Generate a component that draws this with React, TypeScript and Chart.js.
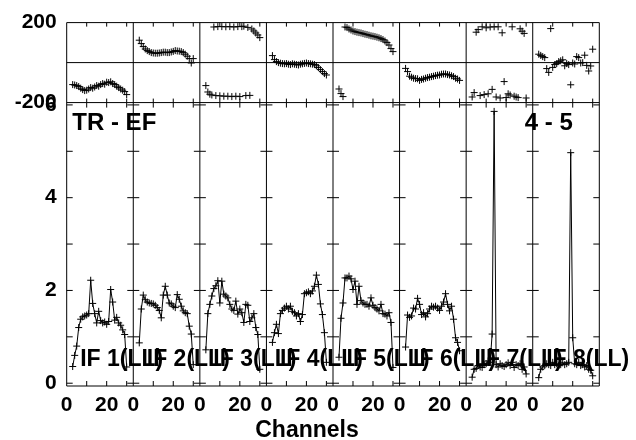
import { useEffect, useRef } from 'react';
import { Chart, registerables } from 'chart.js';
Chart.register(...registerables);

const CHANNELS = [3, 4, 5, 6, 7, 8, 9, 10, 11, 12, 13, 14, 15, 16, 17, 18, 19, 20, 21, 22, 23, 24, 25, 26, 27, 28, 29, 30];
const IF_LABELS = ['IF 1(LL)', 'IF 2(LL)', 'IF 3(LL)', 'IF 4(LL)', 'IF 5(LL)', 'IF 6(LL)', 'IF 7(LL)', 'IF 8(LL)'];
const BASELINE_LEFT = 'TR - EF';
const BASELINE_RIGHT = '4 - 5';
const X_TITLE = 'Channels';

const AMP_IF1 = [0.36, 0.6, 0.8, 1.2, 1.38, 1.43, 1.45, 1.47, 1.5, 2.22, 1.72, 1.5, 1.3, 1.55, 1.35, 1.3, 1.32, 1.27, 1.33, 2.02, 1.75, 1.36, 1.42, 1.3, 1.25, 1.15, 1.05, 0.35];
const AMP_IF2 = [0.87, 1.6, 1.9, 1.8, 1.75, 1.73, 1.72, 1.71, 1.68, 1.63, 1.57, 1.41, 1.9, 2.09, 1.9, 1.73, 1.71, 1.66, 1.63, 1.91, 1.81, 1.66, 1.56, 1.52, 1.5, 1.23, 1.06, 0.4];
const AMP_IF3 = [0.72, 1.5, 1.7, 1.88, 2.04, 2.1, 2.21, 1.73, 2.2, 1.92, 1.88, 1.84, 1.7, 1.6, 1.57, 1.77, 1.49, 1.6, 1.52, 1.31, 1.7, 1.68, 1.33, 1.41, 1.5, 1.2, 1.05, 0.3];
const AMP_IF4 = [0.88, 1.09, 1.27, 1.07, 1.5, 1.57, 1.62, 1.66, 1.6, 1.66, 1.55, 1.52, 1.45, 1.5, 1.33, 1.48, 1.93, 1.95, 1.97, 1.93, 1.99, 2.09, 2.33, 2.13, 1.71, 1.48, 1.09, 0.45];
const AMP_IF5 = [0.56, 1.4, 1.73, 2.27, 2.27, 2.31, 2.25, 2.02, 2.2, 1.7, 2.09, 1.78, 1.73, 1.7, 1.7, 1.66, 1.84, 1.68, 1.63, 1.6, 1.56, 1.7, 1.5, 1.49, 1.45, 1.52, 1.31, 0.34];
const AMP_IF6 = [0.78, 1.47, 1.42, 1.45, 1.62, 1.6, 1.83, 1.7, 1.48, 1.52, 1.43, 1.5, 1.6, 1.66, 1.64, 1.66, 1.62, 1.57, 1.66, 1.75, 1.93, 1.7, 1.56, 1.66, 1.38, 0.98, 0.88, 0.7];
const AMP_IF7 = [0.13, 0.3, 0.32, 0.38, 0.35, 0.34, 0.4, 0.42, 0.48, 0.45, 1.06, 5.86, 0.4, 0.35, 0.42, 0.38, 0.36, 0.4, 0.44, 0.38, 0.45, 0.34, 0.4, 0.38, 0.42, 0.3, 0.35, 0.2];
const AMP_IF8 = [0.12, 0.3, 0.35, 0.38, 0.42, 0.4, 0.38, 0.45, 0.4, 0.42, 0.38, 0.4, 0.44, 0.4, 0.42, 0.45, 4.97, 0.98, 0.42, 0.4, 0.45, 0.38, 0.4, 0.35, 0.38, 0.3, 0.28, 0.16];

const PHASE_IF1 = [-110, -112, -115, -120, -128, -135, -140, -138, -132, -125, -128, -122, -115, -118, -110, -105, -108, -98, -100, -96, -105, -110, -118, -125, -132, -138, -145, -160];
const PHASE_IF2 = [112, 95, 80, 68, 60, 55, 50, 48, 47, 47, 48, 50, 52, 52, 50, 50, 53, 56, 60, 58, 57, 55, 50, 42, 32, 20, -2, 20];
const PHASE_IF3 = [-115, -147, -158, -162, 178, -165, 180, -166, 180, -168, 179, -168, 180, -170, 178, -168, 180, -170, 180, 182, -165, 176, -164, 168, 158, 148, 138, 125];
const PHASE_IF4 = [35, 15, 5, 0, -3, -5, -6, -5, -8, -10, -6, -8, -10, -12, -8, -6, -4, -2, -5, -6, -8, -10, -16, -25, -35, -45, -55, -62];
const PHASE_IF5 = [-132, -155, -170, 178, 175, 168, 163, 158, 155, 152, 150, 148, 145, 142, 140, 137, 134, 132, 130, 127, 124, 120, 115, 108, 100, 88, 70, 55];
const PHASE_IF6 = [-29, -45, -68, -73, -78, -80, -81, -89, -84, -82, -78, -75, -73, -70, -68, -65, -63, -62, -58, -57, -57, -60, -62, -66, -70, -78, -82, -89];
const PHASE_IF7 = [-172, -150, 152, 165, -165, 179, -160, 174, -156, 178, -134, 179, -172, 179, -177, 149, -95, -175, -156, -162, 179, -168, -172, -175, 169, 157, 146, -177];
const PHASE_IF8 = [42, 36, 30, 25, -30, -49, 170, -24, -10, -5, 5, 9, 14, -16, -5, -10, -111, -2, -7, 30, 25, -2, 0, 37, -14, -42, -17, 67];

const AMP_SERIES = [AMP_IF1, AMP_IF2, AMP_IF3, AMP_IF4, AMP_IF5, AMP_IF6, AMP_IF7, AMP_IF8];
const PHASE_SERIES = [PHASE_IF1, PHASE_IF2, PHASE_IF3, PHASE_IF4, PHASE_IF5, PHASE_IF6, PHASE_IF7, PHASE_IF8];

const CHANNEL_MIN = 0;
const CHANNEL_MAX = 33.3;
const CHANNEL_LABEL_TICKS = [0, 20];
const CHANNEL_MARK_TICKS = [10, 20, 30];
const AMP_MIN = -0.06;
const AMP_MAX = 6.05;
const AMP_LABEL_TICKS = [0, 2, 4, 6];
const AMP_MARK_TICKS = [0, 1, 2, 3, 4, 5, 6];
const PHASE_MIN = -200;
const PHASE_MAX = 200;
const PHASE_LABEL_TICKS = [-200, 200];

const FONT_FAMILY = '"Liberation Sans", Arial, Helvetica, sans-serif';

const framePlugin = {
  id: 'possmFrame',
  beforeDatasetsDraw(chart: any) {
    const ctx = chart.ctx;
    const { left, right, top, bottom } = chart.chartArea;
    const ph = chart.scales.ph;
    const amp = chart.scales.amp;
    ctx.save();
    ctx.strokeStyle = '#000';
    ctx.lineWidth = 1;
    ctx.beginPath();
    const hLines = [top, ph.getPixelForValue(0), amp.top, bottom];
    hLines.forEach((y: number) => {
      ctx.moveTo(left, y);
      ctx.lineTo(right, y);
    });
    for (let p = 0; p < 8; p++) {
      const xs = chart.scales['x' + p];
      const x0 = xs.getPixelForValue(CHANNEL_MIN);
      const x1 = xs.getPixelForValue(CHANNEL_MAX);
      ctx.moveTo(x0, top);
      ctx.lineTo(x0, bottom);
      if (p === 7) {
        ctx.moveTo(x1, top);
        ctx.lineTo(x1, bottom);
      }
      AMP_MARK_TICKS.forEach((v) => {
        const y = amp.getPixelForValue(v);
        ctx.moveTo(x0, y);
        ctx.lineTo(x0 + 6, y);
        ctx.moveTo(x1, y);
        ctx.lineTo(x1 - 6, y);
      });
      CHANNEL_MARK_TICKS.forEach((c) => {
        const x = xs.getPixelForValue(c);
        ctx.moveTo(x, amp.bottom);
        ctx.lineTo(x, amp.bottom - 5);
        ctx.moveTo(x, amp.top);
        ctx.lineTo(x, amp.top + 5);
        ctx.moveTo(x, ph.bottom);
        ctx.lineTo(x, ph.bottom - 4);
        ctx.moveTo(x, ph.top);
        ctx.lineTo(x, ph.top + 4);
      });
    }
    ctx.stroke();
    ctx.restore();
  },
  afterDatasetsDraw(chart: any) {
    const ctx = chart.ctx;
    const { left, right } = chart.chartArea;
    const amp = chart.scales.amp;
    ctx.save();
    ctx.fillStyle = '#000';
    ctx.textBaseline = 'alphabetic';
    ctx.font = 'bold 23px ' + FONT_FAMILY;
    ctx.textAlign = 'left';
    IF_LABELS.forEach((t, p) => {
      const xs = chart.scales['x' + p];
      ctx.fillText(t, xs.left + 13.5, amp.bottom - 20);
    });
    ctx.font = 'bold 24px ' + FONT_FAMILY;
    ctx.fillText(BASELINE_LEFT, left + 5.6, amp.top + 27.5);
    ctx.textAlign = 'right';
    ctx.fillText(BASELINE_RIGHT, right - 26.5, amp.top + 27);
    ctx.font = 'bold 23px ' + FONT_FAMILY;
    ctx.textAlign = 'center';
    ctx.fillText(X_TITLE, (left + right) / 2 - 26, chart.height - 3);
    ctx.restore();
  },
};

export default function App() {
  const ref = useRef<HTMLCanvasElement | null>(null);
  useEffect(() => {
    if (!ref.current) return;
    const tickFont = { family: FONT_FAMILY, size: 21, weight: 'bold' as const };
    const scales: any = {};
    for (let p = 0; p < 8; p++) {
      scales['x' + p] = {
        type: 'linear',
        position: 'bottom',
        stack: 'channels',
        stackWeight: 1,
        min: CHANNEL_MIN,
        max: CHANNEL_MAX,
        grid: { display: false, drawTicks: false },
        border: { display: false },
        afterBuildTicks: (s: any) => {
          s.ticks = CHANNEL_LABEL_TICKS.map((v) => ({ value: v }));
        },
        afterFit: (s: any) => {
          s.height = 54;
        },
        ticks: { font: tickFont, color: '#000', padding: 7, maxRotation: 0, autoSkip: false },
      };
    }
    scales.amp = {
      type: 'linear',
      position: 'left',
      stack: 'values',
      stackWeight: 287,
      weight: 1,
      min: AMP_MIN,
      max: AMP_MAX,
      grid: { display: false, drawTicks: false },
      border: { display: false },
      afterBuildTicks: (s: any) => {
        s.ticks = AMP_LABEL_TICKS.map((v) => ({ value: v }));
      },
      afterFit: (s: any) => {
        s.width = 66.7;
      },
      ticks: { font: tickFont, color: '#000', padding: 10, autoSkip: false },
    };
    scales.ph = {
      type: 'linear',
      position: 'left',
      stack: 'values',
      stackWeight: 81,
      weight: 2,
      min: PHASE_MIN,
      max: PHASE_MAX,
      grid: { display: false, drawTicks: false },
      border: { display: false },
      afterBuildTicks: (s: any) => {
        s.ticks = PHASE_LABEL_TICKS.map((v) => ({ value: v }));
      },
      afterFit: (s: any) => {
        s.width = 66.7;
      },
      ticks: { font: tickFont, color: '#000', padding: 10, autoSkip: false },
    };

    const datasets: any[] = [];
    for (let p = 0; p < 8; p++) {
      datasets.push({
        label: IF_LABELS[p] + ' amp',
        data: AMP_SERIES[p].map((v, i) => ({ x: CHANNELS[i], y: v })),
        xAxisID: 'x' + p,
        yAxisID: 'amp',
        showLine: true,
        borderColor: '#000',
        borderWidth: 1,
        tension: 0,
        pointStyle: 'cross',
        pointRadius: 3.5,
        pointBorderColor: '#000',
        pointBorderWidth: 1,
        fill: false,
      });
      datasets.push({
        label: IF_LABELS[p] + ' phase',
        data: PHASE_SERIES[p].map((v, i) => ({ x: CHANNELS[i], y: v })),
        xAxisID: 'x' + p,
        yAxisID: 'ph',
        showLine: false,
        borderColor: '#000',
        pointStyle: 'cross',
        pointRadius: 3.5,
        pointBorderColor: '#000',
        pointBorderWidth: 1,
        fill: false,
      });
    }

    const chart = new Chart(ref.current, {
      type: 'line',
      data: { datasets },
      options: {
        responsive: false,
        animation: false,
        layout: { padding: { left: 0, top: 18, right: 36.7, bottom: 0 } },
        plugins: { legend: { display: false }, tooltip: { enabled: false }, title: { display: false } },
        scales,
      },
      plugins: [framePlugin],
    } as any);
    return () => chart.destroy();
  }, []);
  return (
    <div style={{ position: 'absolute', left: 0, top: 0, width: 636, height: 440, background: '#fff' }}>
      <canvas ref={ref} width={636} height={440} style={{ display: 'block' }} />
    </div>
  );
}
